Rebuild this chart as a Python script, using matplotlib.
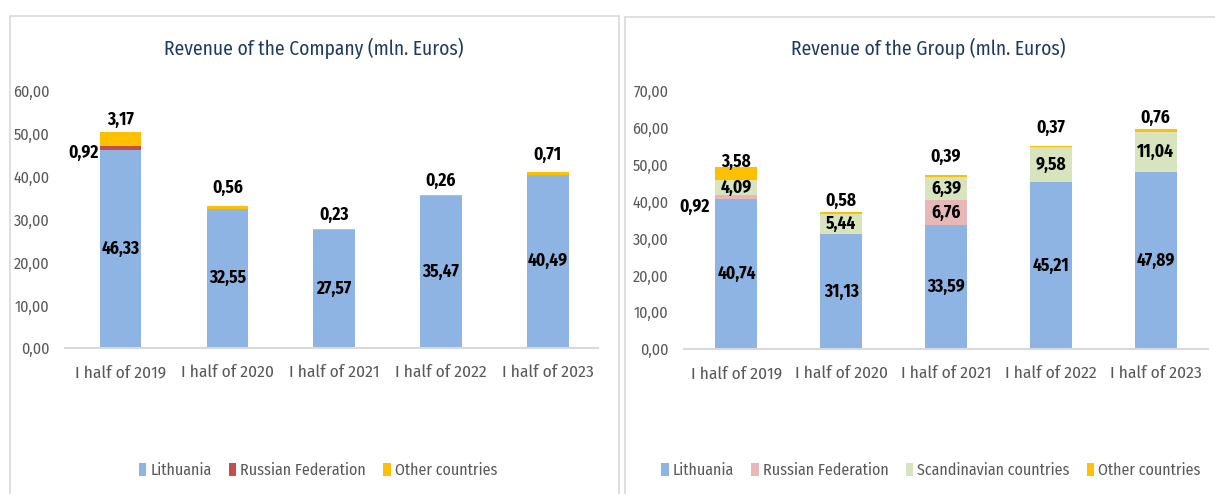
import matplotlib
matplotlib.use('Agg')
import matplotlib.pyplot as plt
from matplotlib.patches import Rectangle
import numpy as np

plt.rcParams['font.family'] = ['Fira Sans Condensed', 'DejaVu Sans']

periods = ['I half of 2019', 'I half of 2020', 'I half of 2021', 'I half of 2022', 'I half of 2023']

# company revenue, mln EUR
comp_lithuania = [46.33, 32.55, 27.57, 35.47, 40.49]
comp_russia = [0.92, 0, 0, 0, 0]
comp_other = [3.17, 0.56, 0.23, 0.26, 0.71]

# group revenue, mln EUR
grp_lithuania = [40.74, 31.13, 33.59, 45.21, 47.89]
grp_russia = [0.92, 0, 6.76, 0, 0]
grp_scand = [4.09, 5.44, 6.39, 9.58, 11.04]
grp_other = [3.58, 0.58, 0.39, 0.37, 0.76]

c_lt = '#8EB4E3'
c_other = '#FFC000'
c_scand = '#D7E4BD'
title_col = '#1F3A60'
tick_col = '#595959'

def fmt(v):
    return f'{v:.2f}'.replace('.', ',')

fig = plt.figure(figsize=(12.15, 4.94), dpi=100)

# panel frames
fig.patches.append(Rectangle((10/1215, -0.1), 609/1215, 1.1 - 16/494, transform=fig.transFigure,
                             fill=False, ec='#D9D9D9', lw=1.2))
fig.patches.append(Rectangle((625/1215, -0.1), 0.6, 1.1 - 17/494, transform=fig.transFigure,
                             fill=False, ec='#D9D9D9', lw=1.2))

def setup(ax, ymax, xlim):
    ax.set_ylim(0, ymax)
    ax.set_xlim(*xlim)
    ax.set_yticks(np.arange(0, ymax + 1, 10))
    ax.set_yticklabels([fmt(v) for v in np.arange(0, ymax + 1, 10)])
    ax.set_xticks(range(len(periods)))
    ax.set_xticklabels(periods)
    for s in ['top', 'right', 'left']:
        ax.spines[s].set_visible(False)
    ax.spines['bottom'].set_color('#D9D9D9')
    ax.spines['bottom'].set_linewidth(1.5)
    ax.tick_params(length=0, colors=tick_col)
    ax.tick_params(axis='x', pad=12, labelsize=12.5)
    ax.tick_params(axis='y', pad=11, labelsize=11.5)

fs = 12.5
lbl = dict(ha='center', va='center', fontsize=fs, fontweight='bold', color='black')
leg_kw = dict(loc='center', frameon=False, fontsize=11.5, handlelength=0.45, handleheight=0.9,
              handletextpad=0.25, columnspacing=1.1, labelcolor=tick_col)

# ---- left: company
ax1 = fig.add_axes([65/1215, 146/494, 533/1215, 257/494])
x = np.arange(len(periods))
w = 0.39
b1 = np.array(comp_lithuania)
ax1.bar(x, comp_lithuania, w, color=c_lt, label='Lithuania')
ax1.bar(x, comp_russia, w, bottom=b1, color='#C0504D', label='Russian Federation')
b2 = b1 + np.array(comp_russia)
ax1.bar(x, comp_other, w, bottom=b2, color=c_other, label='Other countries')
setup(ax1, 60, (-0.52, 4.47))
comp_off = [9, 13, 10, 10, 12]
for i in x:
    ax1.text(i, comp_lithuania[i] / 2, fmt(comp_lithuania[i]), **lbl)
    if comp_russia[i] > 0:
        ax1.annotate(fmt(comp_russia[i]), (i - w / 2, b1[i] + comp_russia[i] / 2), xytext=(-1, -4),
                     textcoords='offset points', ha='right', va='center', fontsize=fs,
                     fontweight='bold')
    ax1.annotate(fmt(comp_other[i]), (i, b2[i] + comp_other[i]), xytext=(0, comp_off[i]),
                 textcoords='offset points', ha='center', va='center', fontsize=fs, fontweight='bold')
fig.text(314/1215, 1 - 48/494, 'Revenue of the Company (mln. Euros)', ha='center', va='center',
         fontsize=14, color=title_col)
fig.legend(*ax1.get_legend_handles_labels(), bbox_to_anchor=(318/1215, 1 - 470/494), ncol=3, **leg_kw)

# ---- right: group
ax2 = fig.add_axes([684/1215, 145/494, 524/1215, 258/494])
w2 = 0.4
g1 = np.array(grp_lithuania)
g2 = g1 + np.array(grp_russia)
g3 = g2 + np.array(grp_scand)
ax2.bar(x, grp_lithuania, w2, color=c_lt, label='Lithuania')
ax2.bar(x, grp_russia, w2, bottom=g1, color='#E6B9B8', label='Russian Federation')
ax2.bar(x, grp_scand, w2, bottom=g2, color=c_scand, label='Scandinavian countries')
ax2.bar(x, grp_other, w2, bottom=g3, color=c_other, label='Other countries')
setup(ax2, 70, (-0.5, 4.5))
grp_off = [4, 8, 13, 13, 8]
for i in x:
    ax2.text(i, grp_lithuania[i] / 2, fmt(grp_lithuania[i]), **lbl)
    if grp_russia[i] > 2:
        ax2.text(i, g1[i] + grp_russia[i] / 2, fmt(grp_russia[i]), **lbl)
    elif grp_russia[i] > 0:
        ax2.annotate(fmt(grp_russia[i]), (i - w2 / 2, g1[i] + grp_russia[i] / 2), xytext=(-4, -7),
                     textcoords='offset points', ha='right', va='center', fontsize=fs,
                     fontweight='bold')
    ax2.text(i, g2[i] + grp_scand[i] / 2, fmt(grp_scand[i]), **lbl)
    ax2.annotate(fmt(grp_other[i]), (i, g3[i] + grp_other[i]), xytext=(0, grp_off[i]),
                 textcoords='offset points', ha='center', va='center', fontsize=fs, fontweight='bold')
fig.text(928/1215, 1 - 48/494, 'Revenue of the Group (mln. Euros)', ha='center', va='center',
         fontsize=14, color=title_col)
fig.legend(*ax2.get_legend_handles_labels(), bbox_to_anchor=(931/1215, 1 - 470/494), ncol=4, **leg_kw)

fig.savefig('out.png', dpi=100)
